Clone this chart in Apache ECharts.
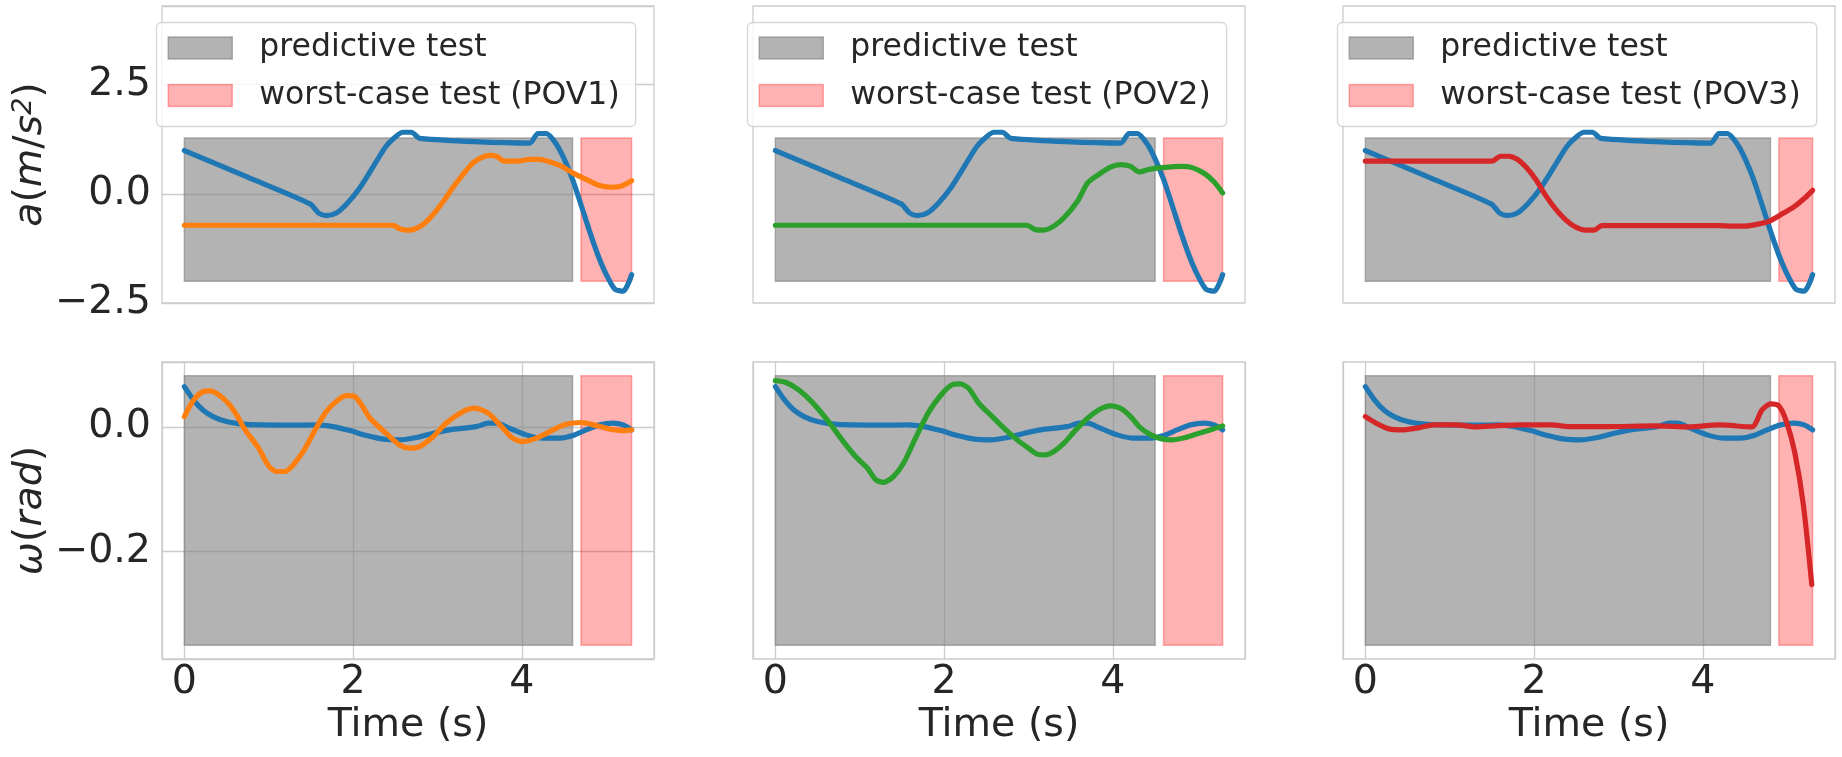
<!DOCTYPE html>
<html><head><meta charset="utf-8">
<script src="https://cdn.jsdelivr.net/npm/echarts@6/dist/echarts.min.js"></script>
<style>html,body{margin:0;padding:0;background:#fff}#c{width:1842px;height:757px}</style>
</head><body><div id="c"></div>
<script>
// ---- data ----
const povNames = ['POV1', 'POV2', 'POV3'];
const xTicks = [0, 2, 4];
const aTicks = [-2.5, 0, 2.5];
const wTicks = [-0.2, 0];
const predictiveStart = 0;
const predictiveEnd = [4.6, 4.5, 4.8];
const worstStart = [4.7, 4.6, 4.9];
const worstEnd = 5.3;
const aRect = [-2.0, 1.28];
const wRect = [-0.35, 0.082];

const aNominal = [[0,0.99],[0.75,0.38],[1.49,-0.23],[1.59,-0.44],[1.68,-0.50],[1.80,-0.44],[1.92,-0.24],[2.08,0.14],[2.24,0.63],[2.39,1.09],[2.51,1.32],[2.59,1.41],[2.69,1.41],[2.79,1.27],[4.09,1.16],[4.19,1.38],[4.29,1.38],[4.41,1.13],[4.50,0.80],[4.60,0.33],[4.70,-0.25],[4.80,-0.85],[4.90,-1.40],[5.00,-1.85],[5.10,-2.18],[5.20,-2.23],[5.30,-1.85]];
const aPOV1 = [[0,-0.72],[2.47,-0.72],[2.55,-0.80],[2.63,-0.83],[2.71,-0.82],[2.83,-0.70],[2.95,-0.47],[3.07,-0.17],[3.18,0.14],[3.30,0.44],[3.42,0.71],[3.52,0.83],[3.62,0.88],[3.70,0.86],[3.79,0.75],[3.95,0.75],[4.09,0.79],[4.21,0.79],[4.33,0.73],[4.45,0.65],[4.60,0.48],[4.76,0.33],[4.92,0.19],[5.08,0.15],[5.18,0.18],[5.30,0.30]];
const aPOV2 = [[0,-0.72],[2.98,-0.72],[3.08,-0.82],[3.18,-0.83],[3.30,-0.74],[3.42,-0.55],[3.58,-0.17],[3.70,0.25],[3.83,0.44],[3.97,0.61],[4.09,0.67],[4.21,0.63],[4.31,0.50],[4.43,0.56],[4.58,0.60],[4.82,0.63],[4.94,0.60],[5.08,0.47],[5.20,0.27],[5.30,0.02]];
const aPOV3 = [[0,0.75],[1.50,0.75],[1.60,0.86],[1.70,0.86],[1.80,0.79],[1.90,0.62],[2.02,0.33],[2.13,-0.02],[2.25,-0.34],[2.37,-0.59],[2.49,-0.76],[2.61,-0.83],[2.71,-0.83],[2.80,-0.73],[4.19,-0.73],[4.34,-0.74],[4.50,-0.74],[4.64,-0.70],[4.78,-0.63],[4.93,-0.47],[5.09,-0.28],[5.21,-0.09],[5.30,0.08]];

const wNominal = [[0,0.0645],[0.11,0.043],[0.22,0.027],[0.34,0.0165],[0.50,0.0085],[0.70,0.0043],[0.90,0.0032],[1.29,0.0027],[1.57,0.0032],[1.76,0.0005],[1.96,-0.0059],[2.16,-0.0139],[2.36,-0.0197],[2.55,-0.0208],[2.75,-0.017],[2.95,-0.0101],[3.14,-0.0048],[3.46,0.0005],[3.60,0.0059],[3.70,0.0059],[3.85,-0.0021],[4.05,-0.0128],[4.25,-0.0181],[4.45,-0.0181],[4.60,-0.0139],[4.76,-0.0048],[4.92,0.0032],[5.08,0.0059],[5.20,0.0032],[5.30,-0.0048]];
const wPOV1 = [[0,0.0165],[0.11,0.043],[0.22,0.0565],[0.30,0.0576],[0.40,0.052],[0.52,0.038],[0.62,0.019],[0.72,-0.0048],[0.88,-0.034],[0.99,-0.061],[1.09,-0.0715],[1.19,-0.0715],[1.29,-0.061],[1.41,-0.039],[1.55,-0.0048],[1.68,0.0245],[1.82,0.043],[1.92,0.050],[2.02,0.0485],[2.10,0.035],[2.20,0.0139],[2.39,-0.0101],[2.55,-0.029],[2.67,-0.034],[2.79,-0.0315],[2.95,-0.0155],[3.10,0.0059],[3.30,0.0245],[3.44,0.030],[3.60,0.022],[3.74,0.0032],[3.89,-0.0181],[4.01,-0.0235],[4.17,-0.0181],[4.37,-0.0048],[4.52,0.0043],[4.70,0.007],[4.88,0.0021],[5.04,-0.0037],[5.20,-0.0059],[5.30,-0.0048]];
const wPOV2 = [[0,0.074],[0.12,0.0715],[0.28,0.059],[0.43,0.0405],[0.63,0.0085],[0.79,-0.0208],[0.95,-0.0475],[1.09,-0.066],[1.19,-0.0848],[1.28,-0.089],[1.40,-0.0795],[1.52,-0.058],[1.66,-0.0181],[1.82,0.0245],[1.98,0.0539],[2.09,0.0672],[2.19,0.0688],[2.29,0.0619],[2.41,0.0379],[2.57,0.0165],[2.73,-0.0048],[2.89,-0.0235],[3.00,-0.034],[3.10,-0.0437],[3.20,-0.0448],[3.30,-0.0395],[3.42,-0.0261],[3.56,-0.0048],[3.70,0.0139],[3.83,0.0272],[3.97,0.0336],[4.09,0.0299],[4.21,0.0165],[4.31,0.0005],[4.45,-0.0128],[4.58,-0.0192],[4.70,-0.0208],[4.86,-0.017],[5.02,-0.0101],[5.18,-0.0037],[5.30,0.0016]];
const wPOV3 = [[0,0.0165],[0.13,0.0059],[0.28,-0.0032],[0.44,-0.0048],[0.64,-0.0011],[0.81,0.0032],[1.07,0.0032],[1.31,0.0],[1.58,0.0021],[1.86,0.0032],[2.21,0.0032],[2.41,0.0005],[2.84,0.0005],[3.44,0.0016],[3.83,0.0],[4.19,0.0032],[4.58,0.0],[4.70,0.0272],[4.80,0.0368],[4.90,0.0336],[4.99,0.0085],[5.09,-0.0421],[5.19,-0.1248],[5.29,-0.2528]];

const aPOV = [aPOV1, aPOV2, aPOV3];
const wPOV = [wPOV1, wPOV2, wPOV3];
const povColors = ['#ff7f0e', '#2ca02c', '#d62728'];
const nominalColor = '#1f77b4';

// ---- layout ----
const FONT = 'DejaVu Sans';
const TXT = '#262626';
const GRIDC = '#cccccc';
const FS = 39.5;
const colLeft = [162, 753, 1343];
const colW = 492;
const rowTop = [6, 362];
const rowH = 297;
const xRange = [-0.265, 5.565];
const aRange = [-2.5, 4.3];
const wRange = [-0.372, 0.104];

const fmtNum = (v, dec) => (v < 0 ? '\u2212' : '') + Math.abs(v).toFixed(dec);
const near = (v, arr) => arr.some(t => Math.abs(v - t) < 1e-6);

const grids = [], xAxes = [], yAxes = [], series = [], legends = [];
const GRAY = {color: 'rgba(128,128,128,0.6)', borderColor: 'rgba(128,128,128,0.6)', borderWidth: 1.5};
const PINK = {color: 'rgba(255,0,0,0.3)', borderColor: 'rgba(255,0,0,0.3)', borderWidth: 1.5};
const nameRich = {
  i: {fontSize: FS, fontFamily: FONT, fontStyle: 'italic', color: TXT},
  n: {fontSize: FS, fontFamily: FONT, fontStyle: 'normal', color: TXT},
  s: {fontSize: 27, fontFamily: FONT, fontStyle: 'italic', color: TXT, verticalAlign: 'top', padding: [0, 0, 14, 0]}
};

for (let r = 0; r < 2; r++) {
  for (let c = 0; c < 3; c++) {
    const idx = r * 3 + c;
    grids.push({left: colLeft[c], top: rowTop[r], width: colW, height: rowH, show: true,
      borderColor: GRIDC, borderWidth: 1.3, backgroundColor: 'transparent', containLabel: false});
    xAxes.push({type: 'value', gridIndex: idx, min: xRange[0], max: xRange[1],
      minInterval: 2, maxInterval: 2,
      axisLine: {show: false}, axisTick: {show: false},
      splitLine: {show: r === 1, lineStyle: {color: GRIDC, width: 1.3}},
      axisLabel: {show: r === 1, showMinLabel: false, showMaxLabel: false, margin: 4,
        fontSize: FS, fontFamily: FONT, color: TXT,
        formatter: v => near(v, xTicks) ? String(Math.round(v)) : ''},
      name: r === 1 ? 'Time (s)' : '', nameLocation: 'middle', nameGap: 47,
      nameTextStyle: {fontSize: FS, fontFamily: FONT, color: TXT}});
    const yr = r === 0 ? aRange : wRange;
    const yt = r === 0 ? aTicks : wTicks;
    const yi = r === 0 ? 2.5 : 0.2;
    yAxes.push({type: 'value', gridIndex: idx, min: yr[0], max: yr[1],
      minInterval: yi, maxInterval: yi,
      axisLine: {show: false}, axisTick: {show: false},
      splitLine: {show: c === 0, lineStyle: {color: GRIDC, width: 1.3}},
      axisLabel: {show: c === 0, showMinLabel: r === 0, showMaxLabel: false, margin: 11,
        fontSize: FS, fontFamily: FONT, color: TXT,
        formatter: v => near(v, yt) ? fmtNum(v, 1) : ''},
      name: c === 0 ? (r === 0 ? '{i|a}{n|(}{i|m}{n|/}{i|s}{s|2}{n|)}' : '{i|ω}{n|(}{i|rad}{n|)}') : '',
      nameLocation: 'middle', nameRotate: 90, nameGap: 106,
      nameTextStyle: {fontSize: FS, fontFamily: FONT, color: TXT, rich: nameRich}});
    const rect = r === 0 ? aRect : wRect;
    series.push({type: 'line', name: 'predictive test', xAxisIndex: idx, yAxisIndex: idx, data: [],
      itemStyle: {color: GRAY.color}, silent: true,
      markArea: {silent: true, itemStyle: GRAY, label: {show: false},
        data: [[{xAxis: predictiveStart, yAxis: rect[0]}, {xAxis: predictiveEnd[c], yAxis: rect[1]}]]}});
    series.push({type: 'line', name: 'worst-case test (' + povNames[c] + ')', xAxisIndex: idx, yAxisIndex: idx, data: [],
      itemStyle: {color: PINK.color}, silent: true,
      markArea: {silent: true, itemStyle: PINK, label: {show: false},
        data: [[{xAxis: worstStart[c], yAxis: rect[0]}, {xAxis: worstEnd, yAxis: rect[1]}]]}});
    const lineCommon = {type: 'line', xAxisIndex: idx, yAxisIndex: idx, showSymbol: false, smooth: 0.25,
      silent: true, animation: false};
    series.push(Object.assign({}, lineCommon, {name: 'nominal' + idx,
      data: r === 0 ? aNominal : wNominal,
      lineStyle: {color: nominalColor, width: 5.2, cap: 'round', join: 'round'}, itemStyle: {color: nominalColor}}));
    series.push(Object.assign({}, lineCommon, {name: povNames[c] + '_' + idx,
      data: r === 0 ? aPOV[c] : wPOV[c],
      lineStyle: {color: povColors[c], width: 5.2, cap: 'round', join: 'round'}, itemStyle: {color: povColors[c]}}));
  }
}
for (let c = 0; c < 3; c++) {
  legends.push({left: colLeft[c] - 5.5, top: 22.5, orient: 'vertical', selectedMode: false, z: 20,
    itemWidth: 64, itemHeight: 22, itemGap: 15.5, padding: [9.5, 16, 15, 11],
    backgroundColor: 'rgba(255,255,255,0.8)', borderColor: 'rgba(204,204,204,0.8)', borderWidth: 1.3, borderRadius: 5,
    textStyle: {fontSize: 31.5, fontFamily: FONT, color: TXT, padding: [0, 0, 0, 22]},
    data: [{name: 'predictive test', icon: 'rect', itemStyle: GRAY},
           {name: 'worst-case test (' + povNames[c] + ')', icon: 'rect', itemStyle: PINK}]});
}

const chart = echarts.init(document.getElementById('c'), null, {renderer: 'canvas'});
chart.setOption({backgroundColor: '#ffffff', animation: false,
  grid: grids, xAxis: xAxes, yAxis: yAxes, legend: legends, series: series});
</script></body></html>
